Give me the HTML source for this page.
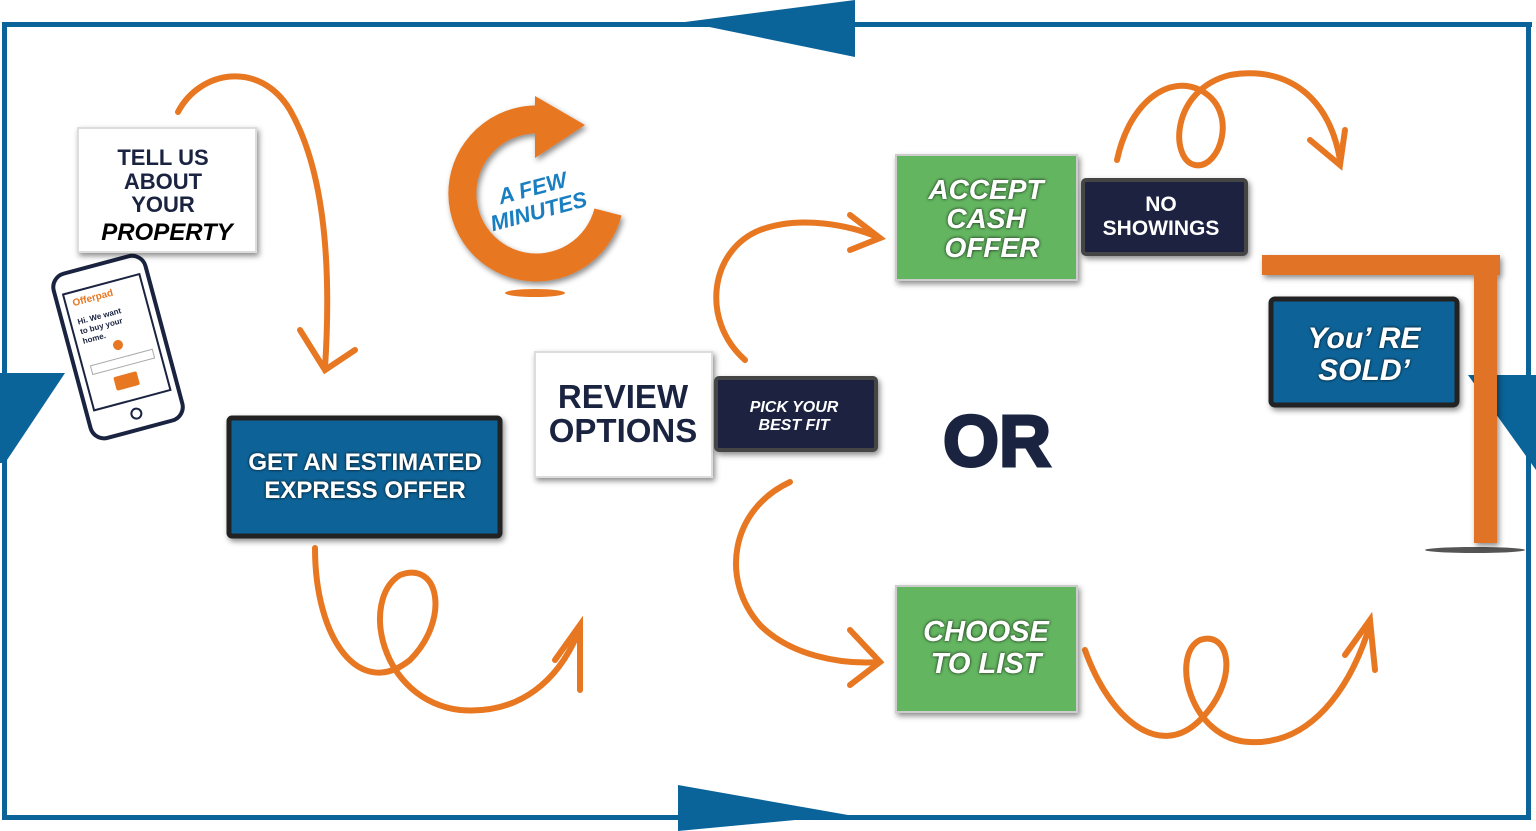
<!DOCTYPE html>
<html><head><meta charset="utf-8"><style>
html,body{margin:0;padding:0;background:#fff;}
svg{display:block;}
text{font-family:"Liberation Sans",sans-serif;font-weight:bold;}
</style></head><body>
<svg width="1536" height="831" viewBox="0 0 1536 831" xmlns="http://www.w3.org/2000/svg">
<defs>
<filter id="sh" x="-20%" y="-20%" width="140%" height="140%"><feDropShadow dx="2" dy="3" stdDeviation="3" flood-color="#000" flood-opacity="0.45"/></filter>
<filter id="ts" x="-20%" y="-40%" width="140%" height="180%"><feDropShadow dx="0" dy="0" stdDeviation="1.5" flood-color="#000" flood-opacity="0.9"/></filter>
</defs>
<!-- border -->
<g fill="#0a6399">
<rect x="2" y="22" width="1530" height="5"/>
<rect x="2" y="22" width="5" height="798"/>
<rect x="1526" y="22" width="5" height="798"/>
<rect x="2" y="815" width="1529" height="5"/>
<polygon points="685,22 855,0 855,57"/>
<polygon points="678,785 848,815 678,831"/>
<polygon points="0,373 65,373 5,463 0,463"/>
<polygon points="1468,375 1536,375 1536,470"/>
</g>
<!-- orange curves -->
<g fill="none" stroke="#e87722" stroke-width="6" stroke-linecap="round">
<path d="M178,112 C200,70 260,60 290,110 C330,180 330,290 325,368"/>
<path d="M300,330 L325,370 L355,350"/>
<path d="M315,548 C315,640 360,700 410,660 C450,620 440,560 400,575 C360,600 380,700 460,710 C520,715 560,680 580,628"/>
<path d="M555,660 L580,625 L580,690"/>
<path d="M745,360 C700,320 710,250 760,230 C800,215 850,225 880,238"/>
<path d="M850,215 L880,238 L850,250"/>
<path d="M790,482 C730,510 720,580 760,625 C790,655 840,665 880,662"/>
<path d="M850,630 L880,662 L850,685"/>
<path d="M1117,160 C1130,100 1170,75 1200,90 C1240,110 1220,170 1195,165 C1170,160 1170,90 1230,75 C1290,65 1330,100 1340,160"/>
<path d="M1310,140 L1340,165 L1345,130"/>
<path d="M1085,650 C1110,720 1160,760 1200,720 C1240,680 1230,630 1200,640 C1170,655 1190,740 1250,742 C1310,745 1350,690 1370,625"/>
<path d="M1345,655 L1370,620 L1375,670"/>
</g>
<!-- A few minutes -->
<g filter="url(#sh)">
<path d="M608,212 A74,74 0 1 1 545,120" fill="none" stroke="#e87722" stroke-width="28"/>
<polygon points="535,96 585,125 535,158" fill="#e87722"/>
</g>
<ellipse cx="535" cy="293" rx="30" ry="4" fill="#e87722"/>
<text transform="translate(537,205) rotate(-15)" text-anchor="middle" font-size="22" fill="#1a7fc0" font-style="italic"><tspan x="0" y="-10">A FEW</tspan><tspan x="0" y="14">MINUTES</tspan></text>
<!-- phone -->
<g transform="rotate(-15 118 345)">
<rect x="70" y="262" width="95" height="170" rx="14" fill="#fff" stroke="#1a2340" stroke-width="4"/>
<rect x="78" y="282" width="79" height="120" fill="#fff" stroke="#1a2340" stroke-width="2"/>
<text x="85" y="296" font-size="10" fill="#e87722">Offerpad</text>
<text x="85" y="315" font-size="8" fill="#1a2340">Hi. We want</text>
<text x="85" y="325" font-size="8" fill="#1a2340">to buy your</text>
<text x="85" y="335" font-size="8" fill="#1a2340">home.</text>
<circle cx="118" cy="345" r="5" fill="#e87722"/>
<rect x="86" y="358" width="64" height="9" fill="none" stroke="#aaa"/>
<rect x="105" y="375" width="24" height="14" rx="2" fill="#e87722"/>
<circle cx="118" cy="416" r="5" fill="none" stroke="#1a2340" stroke-width="2"/>
</g>
<!-- tell us -->
<rect x="78" y="128" width="178" height="124" fill="#fff" stroke="#ddd" stroke-width="2" filter="url(#sh)"/>
<text text-anchor="middle" font-size="22" fill="#1a2340"><tspan x="163" y="165">TELL US</tspan><tspan x="163" y="189">ABOUT</tspan><tspan x="163" y="212">YOUR</tspan></text>
<text x="167" y="240" text-anchor="middle" font-size="24" fill="#000" font-style="italic" font-weight="900">PROPERTY</text>
<!-- estimated -->
<rect x="229" y="418" width="271" height="118" rx="3" fill="#0b6398" stroke="#222" stroke-width="5" filter="url(#sh)"/>
<text text-anchor="middle" font-size="24" fill="#fff" filter="url(#ts)" font-family="Liberation Serif"><tspan x="365" y="470">GET AN ESTIMATED</tspan><tspan x="365" y="498">EXPRESS OFFER</tspan></text>
<!-- review -->
<rect x="535" y="352" width="177" height="125" fill="#fff" stroke="#ddd" stroke-width="2" filter="url(#sh)"/>
<text text-anchor="middle" font-size="33" fill="#1a2340" font-weight="normal"><tspan x="623" y="408">REVIEW</tspan><tspan x="623" y="442">OPTIONS</tspan></text>
<rect x="716" y="378" width="160" height="72" rx="3" fill="#1a2340" stroke="#444" stroke-width="4" filter="url(#sh)"/>
<text text-anchor="middle" font-size="16" fill="#fff" font-style="italic"><tspan x="794" y="412">PICK YOUR</tspan><tspan x="794" y="430">BEST FIT</tspan></text>
<text x="997" y="466" text-anchor="middle" font-size="72" font-weight="900" fill="#1a2340" stroke="#1a2340" stroke-width="3">OR</text>
<!-- accept -->
<rect x="896" y="155" width="181" height="125" fill="#63b561" stroke="#ccc" stroke-width="2" filter="url(#sh)"/>
<text text-anchor="middle" font-size="28" fill="#fff" font-style="italic" filter="url(#ts)"><tspan x="986" y="199">ACCEPT</tspan><tspan x="986" y="228">CASH</tspan><tspan x="992" y="257">OFFER</tspan></text>
<rect x="1083" y="180" width="163" height="74" rx="3" fill="#1a2340" stroke="#444" stroke-width="4" filter="url(#sh)"/>
<text text-anchor="middle" font-size="21" fill="#fff"><tspan x="1161" y="211">NO</tspan><tspan x="1161" y="235">SHOWINGS</tspan></text>
<!-- choose -->
<rect x="896" y="586" width="181" height="126" fill="#63b561" stroke="#ccc" stroke-width="2" filter="url(#sh)"/>
<text text-anchor="middle" font-size="29" fill="#fff" font-style="italic" filter="url(#ts)"><tspan x="986" y="641">CHOOSE</tspan><tspan x="986" y="673">TO LIST</tspan></text>
<!-- sign -->
<ellipse cx="1475" cy="550" rx="50" ry="3" fill="#555"/>
<g filter="url(#sh)" fill="#e07328">
<rect x="1262" y="255" width="238" height="20"/>
<rect x="1474" y="255" width="23" height="288"/>
</g>
<rect x="1271" y="299" width="186" height="106" rx="4" fill="#0b6398" stroke="#222" stroke-width="5" filter="url(#sh)"/>
<text text-anchor="middle" font-size="30" fill="#fff" font-style="italic" font-weight="900" filter="url(#ts)"><tspan x="1364" y="348">You’ RE</tspan><tspan x="1364" y="380">SOLD’</tspan></text>
</svg>
</body></html>
